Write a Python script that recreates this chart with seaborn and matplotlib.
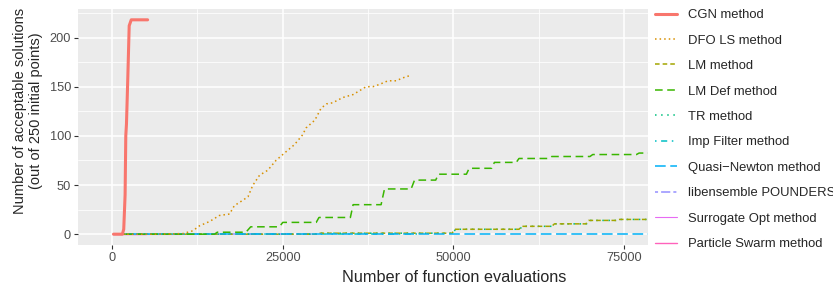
import numpy as np
import pandas as pd
import matplotlib
matplotlib.use("Agg")
import matplotlib.pyplot as plt
from matplotlib.ticker import MultipleLocator, StrMethodFormatter
import seaborn as sns

sns.set_theme(style="darkgrid", rc={
    "axes.facecolor": "#EBEBEB",
    "grid.color": "white",
    "axes.edgecolor": "none",
})
plt.rcParams['font.family'] = ['Liberation Sans', 'DejaVu Sans']

# --- data ---
cgn_x = [200, 1500, 1700, 1900, 2000, 2100, 2300, 2500, 2800, 5200]
cgn_y = [0, 0, 5, 40, 100, 112, 160, 212, 218, 218]

dfo_x = [200, 6000, 10350, 11800, 12800, 14300, 15700, 17200, 17900, 18700, 19900,
         20600, 21600, 22800, 24000, 25500, 26700, 27900, 28400, 29700, 30600,
         31400, 32300, 33800, 35300, 36500, 37200, 38200, 39200, 40400, 41600,
         42600, 43800]
dfo_y = [0, 0, 0.6, 3.4, 8.5, 13, 19, 20.5, 29, 32.5, 38,
         49.6, 60, 65, 75, 84, 91, 101, 108, 116, 128,
         132.5, 133.6, 139, 142, 147, 150, 150, 152.4, 156, 156,
         159, 161.7]

lm_x = [200, 30000, 30300, 49800, 50200, 59600, 60000, 64400, 64800, 69400,
        69800, 73800, 74200, 78500]
lm_y = [0, 0, 1, 1, 5, 5, 8, 8, 10.5, 10.5, 14, 14, 15, 15]

lmdef_x = [200, 15000, 15400, 19600, 20300, 24500, 25000, 29900, 30300, 34900,
           35300, 39400, 39900, 43800, 44300, 47400, 47800, 51900, 52300, 55600,
           56000, 59200, 59600, 64000, 64400, 70000, 70400, 76800, 77200, 78500]
lmdef_y = [0, 0, 2, 2, 7.5, 7.5, 12, 12, 17, 17,
           30, 30, 46, 46, 55, 55, 61, 61, 67, 67,
           73, 73, 77, 77, 79, 79, 81, 81, 82.5, 82.5]

tr_x = [200, 30000, 30300, 49900, 50300, 59700, 60100, 64500, 64900, 69500,
        69900, 73900, 74300, 78500]
tr_y = [0, 0, 1, 1, 5, 5, 8, 8, 10.5, 10.5, 14, 14, 15, 15]

imp_x = [200, 15000, 30000, 45000]
imp_y = [0, 0, 0, 0]

qn_x = [200, 20000, 40000, 60000, 78500]
qn_y = [0, 0, 0, 0, 0]

libe_x = [200, 15000, 30000]
libe_y = [0, 0, 0]

surr_x = [200, 5000, 10000]
surr_y = [0, 0, 0]

pso_x = [200, 2500, 5000]
pso_y = [0, 0, 0]

methods = ["CGN method", "DFO LS method", "LM method", "LM Def method", "TR method",
           "Imp Filter method", "Quasi\u2212Newton method", "libensemble POUNDERS",
           "Surrogate Opt method", "Particle Swarm method"]
series_x = [cgn_x, dfo_x, lm_x, lmdef_x, tr_x, imp_x, qn_x, libe_x, surr_x, pso_x]
series_y = [cgn_y, dfo_y, lm_y, lmdef_y, tr_y, imp_y, qn_y, libe_y, surr_y, pso_y]

colors = ["#F8766D", "#D89000", "#A3A500", "#39B600", "#00BF7D",
          "#00BFC4", "#00B0F6", "#9590FF", "#E76BF3", "#FF62BC"]
styles = ["-", (0, (1, 2)), (0, (3, 2)), (0, (5, 3)), (0, (1, 3)),
          (0, (1, 3, 4, 3)), (0, (7, 3)), (0, (2, 2, 6, 2)), "-", "-"]
widths = [2.2, 1.1, 1.1, 1.1, 1.1, 1.1, 1.1, 1.1, 0.8, 1.0]

fig = plt.figure(figsize=(8.33, 2.86), dpi=100)
ax = fig.add_axes([78 / 833, 1 - 245 / 286, 570 / 833, 236 / 286])

# draw back to front so that CGN ends up on top like in the reference
order = [9, 8, 7, 5, 4, 2, 6, 3, 1, 0]
for i in order:
    df = pd.DataFrame({"x": series_x[i], "y": series_y[i]})
    sns.lineplot(data=df, x="x", y="y", ax=ax, color=colors[i], linestyle=styles[i],
                 linewidth=widths[i], estimator=None, sort=False, legend=False)

ax.set_xlim(-5000, 78500)
ax.set_ylim(-11, 229)
ax.set_xticks([0, 25000, 50000, 75000])
ax.xaxis.set_major_formatter(StrMethodFormatter("{x:.0f}"))
ax.set_yticks([0, 50, 100, 150, 200])
ax.xaxis.set_minor_locator(MultipleLocator(12500))
ax.yaxis.set_minor_locator(MultipleLocator(25))
ax.grid(which="major", color="white", linewidth=1.1)
ax.grid(which="minor", color="white", linewidth=0.55)
ax.tick_params(which="major", length=3, width=0.8, color="#333333",
               labelsize=9.2, labelcolor="#4D4D4D", pad=2, bottom=True, left=True)
ax.tick_params(which="minor", length=0)
for s in ax.spines.values():
    s.set_visible(False)
ax.set_xlabel("")
ax.set_ylabel("")

fig.text(454 / 833, 1 - 277 / 286, "Number of function evaluations",
         ha="center", va="center", fontsize=11.7)
fig.text(28 / 833, 1 - 111 / 286,
         "Number of acceptable solutions\n(out of 250 initial points)",
         ha="center", va="center", rotation=90, fontsize=10.5, linespacing=1.2)

handles = [plt.Line2D([], [], color=c, linestyle=st, linewidth=w)
           for c, st, w in zip(colors, styles, widths)]
fig.legend(handles, methods, loc="upper left", bbox_to_anchor=(655 / 833, 1 - 9 / 286),
           frameon=False, fontsize=9.4, handlelength=1.7, handletextpad=0.8,
           labelspacing=1.02, borderpad=0, borderaxespad=0)

fig.savefig("out.png", dpi=100)
